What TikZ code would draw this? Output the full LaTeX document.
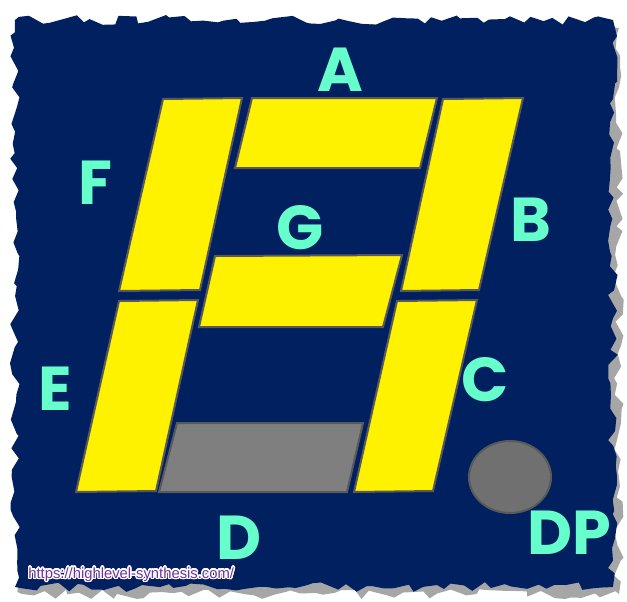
\documentclass[tikz,border=0pt]{standalone}
\usepackage{fontspec}
\setmainfont{Poppins}
\newfontfamily\urlfont{Liberation Sans}
\usepackage{contour}
\contourlength{0.7pt}
\usetikzlibrary{decorations.pathmorphing,shapes.geometric}
\definecolor{navy}{RGB}{0,32,96}
\definecolor{segedge}{RGB}{89,89,89}
\definecolor{offgray}{RGB}{127,127,127}
\definecolor{dpgray}{RGB}{112,112,112}
\definecolor{aqua}{RGB}{102,255,204}
\definecolor{urlpurple}{RGB}{112,48,160}
\tikzstyle{seg}=[fill=yellow,draw=segedge,line width=1pt]
\tikzstyle{segoff}=[fill=offgray,draw=segedge,line width=1pt]
\tikzstyle{lbl}=[text=aqua,inner sep=0pt,font=\fontsize{31}{31}\selectfont\bfseries]
\tikzstyle{torn}=[decorate,decoration={random steps,segment length=5pt,amplitude=2.5pt}]

\begin{document}
\begin{tikzpicture}[x=0.5pt,y=-0.5pt]
\useasboundingbox (0,0) rectangle (627,601);
\pgfmathsetseed{11}
\fill[black!35,torn] (22,28) rectangle (619,594);
\pgfmathsetseed{5}
\fill[navy,torn] (15,20) rectangle (613,587);
\draw[seg] (252,98) -- (437,98) -- (420,168) -- (235,168) -- cycle;
\draw[seg] (443,99) -- (523,98) -- (479,290) -- (401,291) -- cycle;
\draw[seg] (397,301) -- (477,300) -- (433,491) -- (354,492) -- cycle;
\draw[segoff] (177,423) -- (363,423) -- (347,492) -- (159,492) -- cycle;
\draw[seg] (119,301) -- (198,300) -- (156,491) -- (76,492) -- cycle;
\draw[seg] (163,99) -- (242,98) -- (200,290) -- (119,291) -- cycle;
\draw[seg] (215,256) -- (402,255) -- (383,327) -- (199,327) -- cycle;
\node[ellipse,fill=dpgray,draw=segedge,line width=1pt,minimum width=41pt,minimum height=36pt,inner sep=0pt] (dp) at (510,477) {};
\node[lbl] (la) at (340,70) {A};
\node[lbl] (lb) at (531,220) {B};
\node[lbl] (lc) at (485,380) {C};
\node[lbl] (ld) at (239,538) {D};
\node[lbl] (le) at (55,389) {E};
\node[lbl] (lf) at (95,183) {F};
\node[lbl] (lg) at (300,228) {G};
\node[lbl] (ldp) at (569,533) {DP};
\node[anchor=base west,inner sep=0pt,text=urlpurple,font=\urlfont\fontsize{7.4}{8}\selectfont] (url) at (28,578) {\contour{white}{https://highlevel-synthesis.com/}};
\end{tikzpicture}
\end{document}
